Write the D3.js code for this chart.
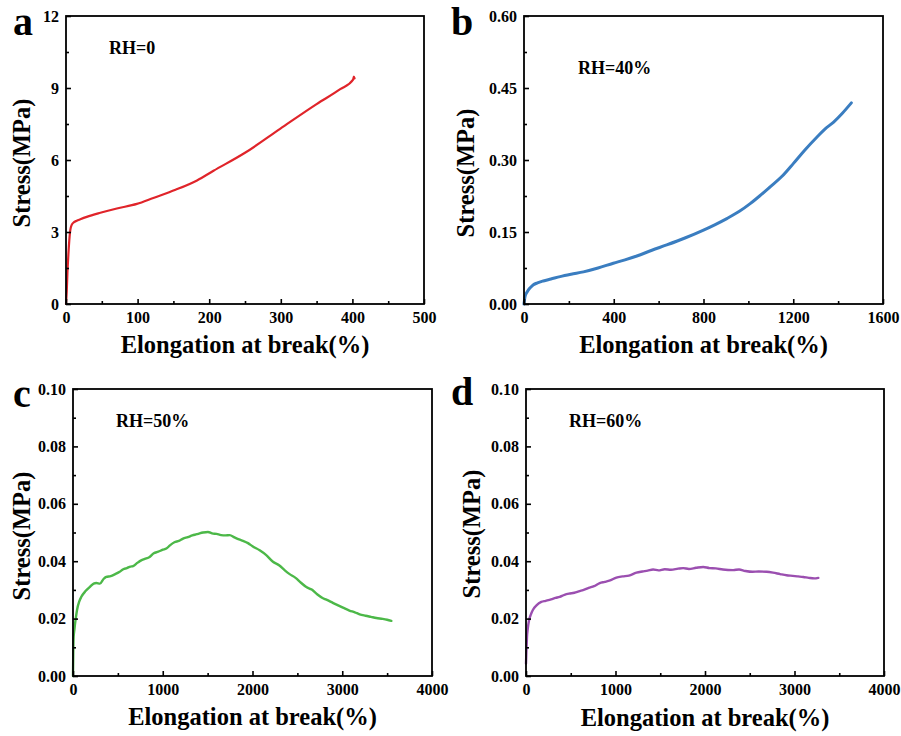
<!DOCTYPE html>
<html>
<head>
<meta charset="utf-8">
<script src="https://cdn.jsdelivr.net/npm/d3@7"></script>
<style>
  html, body { margin: 0; padding: 0; background: #fff; }
  svg { display: block; }
  text { font-family: "Liberation Serif", "Times New Roman", serif; font-weight: bold; fill: #000; }
</style>
</head>
<body>
<svg id="chart" width="901" height="736"></svg>
<script>
// ---------------- DATA ----------------
const panelLetters = ["a", "b", "c", "d"];
const rhLabels = ["RH=0", "RH=40%", "RH=50%", "RH=60%"];
const xAxisTitle = "Elongation at break(%)";
const yAxisTitle = "Stress(MPa)";

const xTicksA = [0, 100, 200, 300, 400, 500];
const yTicksA = [0, 3, 6, 9, 12];
const xTicksB = [0, 400, 800, 1200, 1600];
const yTicksB = [0.00, 0.15, 0.30, 0.45, 0.60];
const xTicksC = [0, 1000, 2000, 3000, 4000];
const yTicksC = [0.00, 0.02, 0.04, 0.06, 0.08, 0.10];
const xTicksD = [0, 1000, 2000, 3000, 4000];
const yTicksD = [0.00, 0.02, 0.04, 0.06, 0.08, 0.10];

// RH=0
const strainA = [0, 1, 2, 3.7, 5, 6, 8, 10, 15, 20, 29, 48, 71, 99, 122, 153, 183, 206, 250, 299, 350, 383, 401, 402, 403];
const stressA = [0, 0.5, 1.3, 2.25, 2.8, 3.08, 3.3, 3.38, 3.47, 3.53, 3.63, 3.80, 3.98, 4.17, 4.42, 4.76, 5.15, 5.55, 6.3, 7.3, 8.33, 8.95, 9.35, 9.48, 9.40];

// RH=40%
const strainB = [0, 4.5, 10, 19, 30, 42, 60, 86, 120, 161, 210, 265, 330, 398, 450, 503, 570, 636, 720, 800, 850, 904, 960, 1008, 1050, 1097, 1150, 1201, 1250, 1306, 1340, 1380, 1420, 1459];
const stressB = [0, 0.015, 0.022, 0.029, 0.035, 0.040, 0.044, 0.048, 0.052, 0.057, 0.062, 0.067, 0.075, 0.085, 0.092, 0.100, 0.112, 0.123, 0.138, 0.154, 0.165, 0.178, 0.193, 0.209, 0.225, 0.244, 0.266, 0.293, 0.320, 0.348, 0.364, 0.379, 0.398, 0.419];

// RH=50%
const strainC = [0, 3, 7, 15, 22, 35, 45, 70, 93, 140, 186, 230, 260, 300, 340, 371, 420, 470, 520, 560, 600, 640, 669, 720, 760, 800, 854, 900, 950, 1000, 1040, 1080, 1130, 1180, 1226, 1280, 1330, 1380, 1411, 1450, 1504, 1550, 1600, 1650, 1700, 1746, 1800, 1850, 1894, 1950, 2000, 2080, 2150, 2228, 2300, 2360, 2414, 2480, 2540, 2600, 2660, 2720, 2780, 2823, 2900, 2960, 3008, 3080, 3140, 3194, 3260, 3320, 3380, 3450, 3500, 3547];
const stressC = [0, 0.008, 0.0136, 0.016, 0.018, 0.021, 0.023, 0.026, 0.0276, 0.0296, 0.031, 0.0322, 0.0324, 0.0322, 0.0338, 0.0345, 0.0348, 0.0355, 0.0363, 0.0372, 0.0376, 0.0381, 0.0383, 0.0395, 0.0403, 0.0408, 0.0415, 0.0428, 0.0433, 0.044, 0.0444, 0.0455, 0.0466, 0.0471, 0.0479, 0.0484, 0.049, 0.0494, 0.0497, 0.0500, 0.0502, 0.0497, 0.0495, 0.0491, 0.049, 0.0491, 0.0483, 0.0476, 0.0471, 0.0463, 0.0452, 0.0438, 0.0422, 0.0398, 0.0385, 0.0368, 0.0355, 0.0342, 0.0325, 0.031, 0.0301, 0.0285, 0.0272, 0.0266, 0.0254, 0.0245, 0.0238, 0.0228, 0.0222, 0.0215, 0.0210, 0.0206, 0.0202, 0.0199, 0.0196, 0.0192];

// RH=60%
const strainD = [0, 5, 11, 20, 34, 55, 78, 120, 171, 220, 280, 330, 376, 430, 480, 540, 600, 637, 700, 760, 824, 880, 940, 1010, 1080, 1150, 1234, 1300, 1360, 1420, 1480, 1550, 1620, 1700, 1756, 1820, 1900, 1980, 2050, 2120, 2200, 2315, 2380, 2450, 2530, 2600, 2688, 2760, 2840, 2911, 2980, 3040, 3098, 3160, 3220, 3266];
const stressD = [0.0043, 0.009, 0.0136, 0.0165, 0.0194, 0.0215, 0.0231, 0.0247, 0.0258, 0.0262, 0.0267, 0.0272, 0.0276, 0.0283, 0.0287, 0.0290, 0.0296, 0.0299, 0.0307, 0.0313, 0.0324, 0.0328, 0.0333, 0.0343, 0.0347, 0.0350, 0.0360, 0.0364, 0.0367, 0.0371, 0.0368, 0.0372, 0.0370, 0.0374, 0.0376, 0.0373, 0.0377, 0.0380, 0.0376, 0.0375, 0.0371, 0.0369, 0.0371, 0.0366, 0.0363, 0.0364, 0.0363, 0.0360, 0.0355, 0.0351, 0.0349, 0.0347, 0.0345, 0.0342, 0.0340, 0.0342];

// ---------------- LAYOUT ----------------
const panels = [
  { letter: panelLetters[0], rh: rhLabels[0], xs: strainA, ys: stressA, xTicks: xTicksA, yTicks: yTicksA, yFmt: d3.format("d"),
    color: "#e0242a", sw: 2.2,
    frame: { l: 66, t: 16, r: 424, b: 304 }, letterPos: [13, 35], rhPos: [109, 54], yTitleX: 30, yTitleY: 163, xTitleY: 353 },
  { letter: panelLetters[1], rh: rhLabels[1], xs: strainB, ys: stressB, xTicks: xTicksB, yTicks: yTicksB, yFmt: d3.format(".2f"),
    color: "#3a7dc0", sw: 3,
    frame: { l: 524, t: 16, r: 883, b: 304 }, letterPos: [451, 35], rhPos: [578, 74], yTitleX: 474, yTitleY: 173, xTitleY: 353 },
  { letter: panelLetters[2], rh: rhLabels[2], xs: strainC, ys: stressC, xTicks: xTicksC, yTicks: yTicksC, yFmt: d3.format(".2f"),
    color: "#4cb848", sw: 2.4,
    frame: { l: 73, t: 389, r: 432, b: 676 }, letterPos: [13, 407], rhPos: [116, 427], yTitleX: 30, yTitleY: 536, xTitleY: 725 },
  { letter: panelLetters[3], rh: rhLabels[3], xs: strainD, ys: stressD, xTicks: xTicksD, yTicks: yTicksD, yFmt: d3.format(".2f"),
    color: "#9b4fb0", sw: 2.4,
    frame: { l: 526, t: 389, r: 884, b: 676 }, letterPos: [451, 405], rhPos: [569, 427], yTitleX: 480, yTitleY: 534, xTitleY: 726 }
];

const svg = d3.select("#chart");

function midTicks(t) {
  const m = [];
  for (let i = 0; i < t.length - 1; i++) m.push((t[i] + t[i + 1]) / 2);
  return m;
}

panels.forEach(p => {
  const f = p.frame;
  const x = d3.scaleLinear().domain([p.xTicks[0], p.xTicks[p.xTicks.length - 1]]).range([f.l, f.r]);
  const y = d3.scaleLinear().domain([p.yTicks[0], p.yTicks[p.yTicks.length - 1]]).range([f.b, f.t]);
  const g = svg.append("g");

  // curve
  const pts = p.xs.map((v, i) => [v, p.ys[i]]);
  g.append("path")
    .datum(pts)
    .attr("fill", "none")
    .attr("stroke", p.color)
    .attr("stroke-width", p.sw)
    .attr("stroke-linejoin", "round")
    .attr("stroke-linecap", "round")
    .attr("d", d3.line().x(d => x(d[0])).y(d => y(d[1])).curve(d3.curveMonotoneX));

  // minor ticks
  const xMinor = d3.axisBottom(x).tickValues(midTicks(p.xTicks)).tickSizeInner(-3).tickSizeOuter(0).tickFormat("");
  const yMinor = d3.axisLeft(y).tickValues(midTicks(p.yTicks)).tickSizeInner(-3).tickSizeOuter(0).tickFormat("");
  const gxm = g.append("g").attr("transform", `translate(0,${f.b})`).call(xMinor);
  const gym = g.append("g").attr("transform", `translate(${f.l},0)`).call(yMinor);

  // major ticks
  const xAxis = d3.axisBottom(x).tickValues(p.xTicks).tickSizeInner(-5).tickSizeOuter(0).tickPadding(8).tickFormat(d3.format("d"));
  const yAxis = d3.axisLeft(y).tickValues(p.yTicks).tickSizeInner(-5).tickSizeOuter(0).tickPadding(7).tickFormat(p.yFmt);
  const gx = g.append("g").attr("transform", `translate(0,${f.b})`).call(xAxis);
  const gy = g.append("g").attr("transform", `translate(${f.l},0)`).call(yAxis);

  [gxm, gym, gx, gy].forEach(a => {
    a.select(".domain").remove();
    a.selectAll("line").attr("stroke", "#000").attr("stroke-width", 1.6);
    a.selectAll("text").attr("font-family", "Liberation Serif, serif").attr("font-weight", "bold").attr("font-size", 16).attr("fill", "#000");
  });

  // frame
  g.append("rect")
    .attr("x", f.l).attr("y", f.t)
    .attr("width", f.r - f.l).attr("height", f.b - f.t)
    .attr("fill", "none").attr("stroke", "#000").attr("stroke-width", 1.8);

  // axis titles
  g.append("text")
    .attr("x", (f.l + f.r) / 2).attr("y", p.xTitleY)
    .attr("text-anchor", "middle").attr("font-size", 24.5)
    .text(xAxisTitle);
  g.append("text")
    .attr("transform", `translate(${p.yTitleX},${p.yTitleY}) rotate(-90)`)
    .attr("text-anchor", "middle").attr("font-size", 24.5)
    .text(yAxisTitle);

  // panel letter
  g.append("text")
    .attr("x", p.letterPos[0]).attr("y", p.letterPos[1])
    .attr("font-size", 40)
    .text(p.letter);

  // RH label
  g.append("text")
    .attr("x", p.rhPos[0]).attr("y", p.rhPos[1])
    .attr("font-size", 18)
    .text(p.rh);
});
</script>
</body>
</html>
